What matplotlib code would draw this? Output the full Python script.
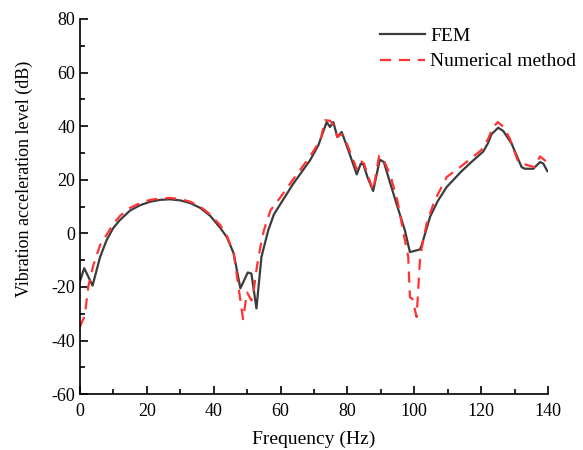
import matplotlib.pyplot as plt
from matplotlib.ticker import MultipleLocator

plt.rcParams['font.family'] = ['Liberation Serif', 'DejaVu Serif']
plt.rcParams['axes.unicode_minus'] = False

# FEM curve
fem_freq = [0, 1.3, 3.8, 6, 8, 10, 12, 15, 18, 21, 24, 27, 30, 33, 36, 39, 42, 44, 46, 48,
            50.2, 51.3, 52.8, 54.3, 56.3, 58, 60, 63.8, 68.8, 71.3, 73.8, 74.8, 75.8, 77, 78.3,
            80, 82.8, 84, 84.8, 86, 87.7, 89.7, 90.9, 92.5, 94.7, 97.2, 98.7, 101.7, 102.2,
            104.7, 107, 109.7, 114, 117, 120.6, 122, 123.1, 125.1, 126.6, 129.1, 132.1, 133.1,
            135.6, 137.6, 138.6, 139.8]
fem_level = [-18, -13, -19.5, -9, -2.5, 2, 5, 8.5, 10.5, 11.8, 12.5, 12.7, 12.3, 11.3, 9.5,
             6.5, 2, -1.5, -7.5, -20.5, -14.6, -15, -28, -8.8, 1, 7, 11, 18.5, 27.2, 32.8,
             41.5, 39.7, 41.5, 35.9, 37.8, 32, 22, 26, 25.7, 21, 15.8, 27.5, 26.6, 20, 11,
             1.1, -7, -6, -4.5, 6.1, 12, 17.3, 23, 26.5, 30.5, 33.5, 37, 39.4, 38.2, 33.5,
             24.7, 24.1, 24.1, 26.6, 26, 23.2]

# Numerical method curve
num_freq = [0, 1.5, 2.5, 4, 6, 8, 10, 12, 15, 18, 21, 24, 27, 30, 33, 36, 39, 42, 44, 46,
            47.3, 48.8, 50, 51.3, 52, 53, 54, 55, 57, 60, 64, 69, 72, 73.3, 74.8, 76, 77,
            78.3, 80, 82.8, 84, 85, 86, 87.7, 89.5, 91, 93, 95, 97.2, 98.2, 98.7, 99.4,
            100.7, 101.7, 102.2, 103.7, 106, 109.7, 114, 117, 120, 122, 123.5, 125, 126.6,
            128.6, 131.1, 134, 136, 137.6, 139.1, 139.8]
num_level = [-35, -30.5, -20, -12, -4.5, -0.5, 3.5, 6.5, 9.5, 11.3, 12.5, 13, 13.2, 12.8,
             11.8, 10, 7, 3, -1, -7.5, -18.8, -32, -22, -25, -21, -12, -5, 1, 8.6, 13.5,
             20.5, 29, 35, 42.2, 42, 40, 36, 37, 33, 24, 27, 26, 22, 16, 29, 27, 21, 12,
             -2.6, -8.8, -23.8, -24.4, -31.2, -10, -5.6, 3.6, 12, 21, 25, 28, 31, 35, 39.5,
             41.5, 39.8, 35.3, 26.6, 25.4, 24.7, 28.7, 27.2, 25.5]

fig = plt.figure(figsize=(5.83, 4.5), dpi=100)
ax = fig.add_axes([0.137, 0.124, 0.803, 0.834])

ax.plot(fem_freq, fem_level, color='#3c3c3c', lw=1.6, label='FEM')
ax.plot(num_freq, num_level, color='#ff3333', lw=1.6, ls=(0, (5, 3.5)),
        label='Numerical method')

ax.set_xlim(0, 140)
ax.set_ylim(-60, 80)
ax.xaxis.set_major_locator(MultipleLocator(20))
ax.xaxis.set_minor_locator(MultipleLocator(10))
ax.yaxis.set_major_locator(MultipleLocator(20))
ax.yaxis.set_minor_locator(MultipleLocator(10))
ax.tick_params(which='both', direction='in', labelsize=13, width=1.2)
ax.tick_params(which='major', length=6)
ax.tick_params(which='minor', length=3.5)
ax.tick_params(axis='x', pad=6)

for side in ['top', 'right']:
    ax.spines[side].set_visible(False)
for side in ['left', 'bottom']:
    ax.spines[side].set_linewidth(1.2)

ax.set_xlabel('Frequency (Hz)', fontsize=14, labelpad=8)
ax.set_ylabel('Vibration acceleration level (dB)', fontsize=13)
ax.yaxis.set_label_coords(-0.100, 0.574)

ax.legend(loc='upper left', bbox_to_anchor=(0.652, 0.940), bbox_transform=fig.transFigure,
          frameon=False, fontsize=14, borderpad=0, borderaxespad=0,
          handlelength=2.3, handletextpad=0.26, labelspacing=0.42)

fig.savefig('out.png')
